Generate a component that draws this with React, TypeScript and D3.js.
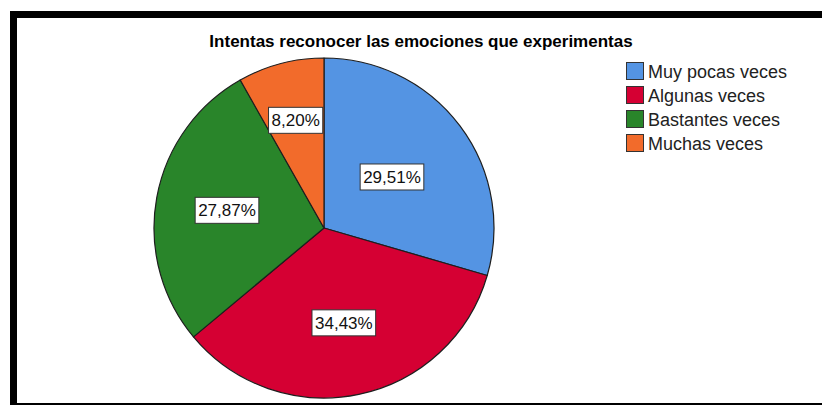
import { useRef, useEffect } from 'react';
import * as d3 from 'd3';

const title = 'Intentas reconocer las emociones que experimentas';
const categories = ['Muy pocas veces', 'Algunas veces', 'Bastantes veces', 'Muchas veces'];
const percentages = [29.51, 34.43, 27.87, 8.2];
const colors = ['#5494e3', '#d50033', '#29852a', '#f26b2b'];

export default function App() {
  const svgRef = useRef<SVGSVGElement | null>(null);

  useEffect(() => {
    const svgWidth = 822;
    const svgHeight = 405;
    const cx = 324;
    const cy = 228;
    const radius = 170;

    const svg = d3.select(svgRef.current).attr('width', svgWidth).attr('height', svgHeight);
    svg.selectAll('*').remove();

    // frame
    svg
      .append('rect')
      .attr('x', 13.5)
      .attr('y', 14.5)
      .attr('width', 830)
      .attr('height', 392)
      .attr('fill', '#fff')
      .attr('stroke', '#000')
      .attr('stroke-width', 7);

    svg
      .append('text')
      .attr('x', 421)
      .attr('y', 47)
      .attr('text-anchor', 'middle')
      .attr('font-family', 'Liberation Sans, Arial, sans-serif')
      .attr('font-weight', 'bold')
      .attr('font-size', 17)
      .attr('fill', '#000')
      .text(title);

    const data = categories.map((c, i) => ({ category: c, value: percentages[i], color: colors[i] }));
    const pie = d3
      .pie<{ category: string; value: number; color: string }>()
      .sort(null)
      .value((d) => d.value);
    const arcs = pie(data);
    const arc = d3.arc<d3.PieArcDatum<any>>().innerRadius(0).outerRadius(radius);

    const pieGroup = svg.append('g').attr('transform', `translate(${cx}, ${cy})`);
    pieGroup
      .selectAll('path')
      .data(arcs)
      .join('path')
      .attr('d', arc)
      .attr('fill', (d) => d.data.color)
      .attr('stroke', '#1e1e1e')
      .attr('stroke-width', 1.2)
      .attr('stroke-linejoin', 'round');

    // label distance from centre, as a share of the radius
    const labelFactor = [0.5, 0.57, 0.58, 0.655];
    const labelGroup = pieGroup.append('g').attr('class', 'labels');
    arcs.forEach((d, i) => {
      const mid = (d.startAngle + d.endAngle) / 2;
      const r = radius * labelFactor[i];
      const x = Math.sin(mid) * r;
      const y = -Math.cos(mid) * r;
      const g = labelGroup.append('g').attr('transform', `translate(${x}, ${y})`);
      const txt = g
        .append('text')
        .attr('text-anchor', 'middle')
        .attr('y', 6)
        .attr('font-family', 'Liberation Sans, Arial, sans-serif')
        .attr('font-size', 17)
        .attr('fill', '#111')
        .text(`${d.data.value.toFixed(2).replace('.', ',')}%`);
      const bb = (txt.node() as SVGTextElement).getBBox();
      g.insert('rect', 'text')
        .attr('x', bb.x - 3)
        .attr('y', -13)
        .attr('width', bb.width + 6)
        .attr('height', 26)
        .attr('fill', '#fff')
        .attr('stroke', '#333')
        .attr('stroke-width', 1);
    });

    const legend = svg.append('g').attr('transform', 'translate(626, 62)');
    const rows = legend
      .selectAll('g')
      .data(data)
      .join('g')
      .attr('transform', (d, i) => `translate(0, ${i * 24})`);
    rows
      .append('rect')
      .attr('x', 0.5)
      .attr('y', 0.5)
      .attr('width', 17)
      .attr('height', 17)
      .attr('fill', (d) => d.color)
      .attr('stroke', '#333')
      .attr('stroke-width', 1);
    rows
      .append('text')
      .attr('x', 22)
      .attr('y', 16)
      .attr('font-family', 'Liberation Sans, Arial, sans-serif')
      .attr('font-size', 18)
      .attr('fill', '#222')
      .text((d) => d.category);
  }, []);

  return (
    <div style={{ position: 'absolute', left: 0, top: 0, width: 822, height: 405, overflow: 'hidden' }}>
      <svg ref={svgRef} style={{ display: 'block' }} />
    </div>
  );
}
